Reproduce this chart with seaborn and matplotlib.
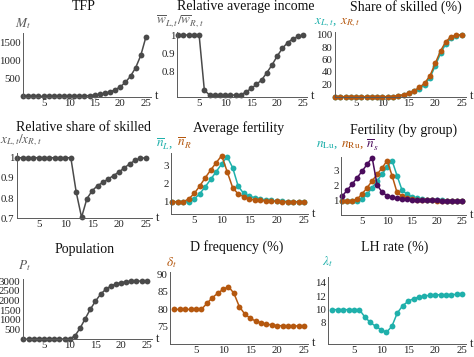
import numpy as np
import pandas as pd
import matplotlib
matplotlib.use("Agg")
import matplotlib.pyplot as plt
import seaborn as sns
from matplotlib.ticker import FixedLocator, MultipleLocator, FuncFormatter

# ---------------- data ----------------
t = list(range(1, 26))

tfp = [5, 5, 5, 5, 5, 5, 5, 6, 6, 7, 9, 13, 18, 27, 40, 60, 90, 130, 186, 269,
       395, 565, 800, 1140, 1650]

rel_income = [1, 1, 1, 1, 1, 0.70, 0.673, 0.673, 0.673, 0.673, 0.673, 0.673, 0.673,
              0.69, 0.709, 0.731, 0.755, 0.795, 0.837, 0.886, 0.928, 0.959, 0.979,
              0.992, 0.999]

share_R = [0, 0, 0, 0, 0, 0, 0, 0, 0, 0, 0, 0.3, 1.5, 3.5, 6.5, 10, 15, 22, 34, 54,
           74, 89, 97, 99.5, 100]
share_L = [0, 0, 0, 0, 0, 0, 0, 0, 0, 0, 0, 0.25, 1.05, 2.8, 5.5, 8.6, 13.1, 19.6,
           30.8, 50, 70, 85.5, 94.6, 98.5, 100]

rel_share = [1, 1, 1, 1, 1, 1, 1, 1, 1, 1, 1, 0.83, 0.705, 0.797, 0.837, 0.862,
             0.878, 0.895, 0.912, 0.93, 0.95, 0.97, 0.987, 0.997, 1.0]

avg_fert_R = [1, 1, 1, 1.15, 1.46, 1.87, 2.33, 2.76, 3.17, 3.56, 2.67, 1.78, 1.43,
              1.28, 1.15, 1.1, 1.07, 1.05, 1.03, 1.02, 1.01, 1.0, 1.0, 1.0, 1.0]
avg_fert_L = [1, 1, 1, 1, 1.15, 1.44, 1.83, 2.24, 2.67, 3.1, 3.5, 2.89, 1.87, 1.46,
              1.31, 1.22, 1.15, 1.1, 1.07, 1.04, 1.02, 1.01, 1.0, 1.0, 1.0]

fert_Lu = [1, 1, 1, 1, 1.11, 1.43, 1.88, 2.33, 2.8, 3.25, 3.7, 2.69, 1.72, 1.43,
           1.27, 1.16, 1.11, 1.07, 1.05, 1.03, 1.02, 1.01, 1.0, 1.0, 1.0]
fert_Ru = [1, 1, 1, 1.11, 1.47, 1.88, 2.33, 2.78, 3.2, 3.7, 2.69, 1.56, 1.31, 1.16,
           1.1, 1.06, 1.04, 1.03, 1.02, 1.01, 1.0, 1.0, 1.0, 1.0, 1.0]
fert_s = [1.31, 1.72, 2.12, 2.55, 3.0, 3.45, 3.9, 2.06, 1.57, 1.34, 1.22, 1.16, 1.11,
          1.09, 1.07, 1.05, 1.04, 1.03, 1.02, 1.02, 1.01, 1.01, 1.0, 1.0, 1.0]

population = [5, 5, 5, 5, 5, 6, 7, 9, 14, 30, 170, 560, 1050, 1540, 1955, 2315, 2570,
              2740, 2850, 2915, 2965, 2985, 2995, 3000, 3000]

d_freq = [80, 80, 80, 80, 80, 80, 81.7, 83.3, 84.6, 85.7, 86.5, 84.6, 80.8, 78.7,
          77.5, 76.7, 76.2, 75.8, 75.6, 75.4, 75.35, 75.3, 75.3, 75.3, 75.3]

lh_rate = [10, 10, 10, 10, 10, 10, 8.9, 8.1, 7.5, 7.0, 6.6, 7.5, 9.5, 10.6, 11.25,
           11.65, 11.9, 12.05, 12.15, 12.2, 12.25, 12.25, 12.27, 12.28, 12.28]

titles = ["TFP", "Relative average income", "Share of skilled (%)",
          "Relative share of skilled", "Average fertility", "Fertility (by group)",
          "Population", "D frequency (%)", "LH rate (%)"]
x_ticks = [5, 10, 15, 20, 25]

# ---------------- style ----------------
sns.set_style("white")
plt.rcParams['font.family'] = ['Liberation Serif', 'DejaVu Serif']
plt.rcParams['mathtext.fontset'] = 'stix'

GRAY = '#4a4a4a'
TEAL = '#1fb0ab'
ORANGE = '#b5580f'
PURPLE = '#4b0c5c'
AX = '#5a5a5a'

W, H = 474, 357
fig = plt.figure(figsize=(W / 100, H / 100), dpi=100)
renderer = fig.canvas.get_renderer()

# (L, R, B, T) px, xlim, ylim, yticks, yminor
layout = [
    ((22.5, 151, 96.5, 33), (0.88, 26.0), (0, 1764), [500, 1000, 1500], 100),
    ((177.3, 306.7, 96.7, 31.7), (0.81, 25.65), (0.664, 1.018), [0.8, 0.9, 1], 0.02),
    ((334.7, 465.7, 96.7, 31.7), (0.95, 25.76), (0, 105), [20, 40, 60, 80, 100], 5),
    ((16.7, 151.7, 218.3, 153.3), (0.89, 26.1), (0.7, 1.022), [0.7, 0.8, 0.9, 1], 0.02),
    ((170.7, 308.3, 214.3, 153.3), (0.71, 25.78), (0.3, 3.69), [1, 2, 3], 0.2),
    ((340.7, 465.7, 215, 156.7), (0.68, 25.8), (0.04, 3.96), [1, 2, 3], 0.2),
    ((22.5, 151.7, 339.3, 278.7), (0.81, 25.97), (0, 3119), [500, 1000, 1500, 2000, 2500, 3000], 100),
    ((170, 308.3, 343.7, 272), (0.2, 25.74), (70.24, 90.65), [75, 80, 85, 90], 1),
    ((328.3, 465.7, 344.3, 277), (0.26, 25.63), (4.8, 14.9), [8, 10, 12, 14], 0.5),
]

series = [
    [(tfp, GRAY)],
    [(rel_income, GRAY)],
    [(share_L, TEAL), (share_R, ORANGE)],
    [(rel_share, GRAY)],
    [(avg_fert_L, TEAL), (avg_fert_R, ORANGE)],
    [(fert_Lu, TEAL), (fert_Ru, ORANGE), (fert_s, PURPLE)],
    [(population, GRAY)],
    [(d_freq, ORANGE)],
    [(lh_rate, TEAL)],
]

title_pos = [(83.3, 7), (245.7, 6.5), (406.3, 7),
             (83.3, 127), (239, 128), (404, 130),
             (85, 250), (236.7, 247.5), (394.7, 247.5)]

ylabels = [
    (15, 23.3, [(r'$M_t$', AX)]),
    (156, 21.7, [(r'$\overline{w}_{L,t}/\overline{w}_{R,t}$', AX)]),
    (314, 22.7, [(r'$x_{L,t}$,', TEAL), (r' $x_{R,t}$', ORANGE)]),
    (0.5, 140, [(r'$x_{L,t}/x_{R,t}$', AX)]),
    (156.5, 143.3, [(r'$\overline{n}_L$,', TEAL), (r' $\overline{n}_R$', ORANGE)]),
    (315.5, 145, [(r'$n_{\mathrm{Lu}}$,', TEAL), (r' $n_{\mathrm{Ru}}$,', ORANGE),
                  (r' $\overline{n}_s$', PURPLE)]),
    (18, 265.3, [(r'$P_t$', AX)]),
    (166.5, 263, [(r'$\delta_t$', ORANGE)]),
    (322, 262, [(r'$\lambda_t$', TEAL)]),
]


def fmt(v, pos):
    return f"{v:g}"


for i in range(9):
    (L, R, B, T), xl, yl, yt, ymin_step = layout[i]
    ax = fig.add_axes([L / W, 1 - B / H, (R - L) / W, (B - T) / H])
    for vals, col in series[i]:
        df = pd.DataFrame({"t": t, "v": vals})
        sns.lineplot(data=df, x="t", y="v", ax=ax, color=col, marker='o',
                     markersize=4.2, markeredgewidth=0, linewidth=1.1)
    for ln in ax.lines:
        ln.set_clip_on(False)
    ax.set_xlim(*xl)
    ax.set_ylim(*yl)
    ax.set_xlabel("")
    ax.set_ylabel("")
    for s in ("top", "right"):
        ax.spines[s].set_visible(False)
    for s in ("left", "bottom"):
        ax.spines[s].set_color(AX)
        ax.spines[s].set_linewidth(0.7)
    ax.xaxis.set_major_locator(FixedLocator(x_ticks))
    ax.xaxis.set_minor_locator(MultipleLocator(1))
    ax.yaxis.set_major_locator(FixedLocator(yt))
    ax.yaxis.set_minor_locator(MultipleLocator(ymin_step))
    ax.yaxis.set_major_formatter(FuncFormatter(fmt))
    ax.tick_params(which='major', direction='in', length=3.5, width=0.6,
                   color=AX, labelsize=7.8, labelcolor='#222222', pad=1.5)
    ax.tick_params(which='minor', direction='in', length=1.8, width=0.5, color=AX)
    ax.patch.set_alpha(0)

    cx, cy = title_pos[i]
    fig.text(cx / W, 1 - cy / H, titles[i], fontsize=10, ha='center', va='center',
             color='#111111')
    fig.text((R + 4) / W, 1 - (B - 0.5) / H, "t", fontsize=9, ha='left',
             va='center', color='#222222')

    x0, y0, pieces = ylabels[i]
    cxp = x0
    for txt, col in pieces:
        tx = fig.text(cxp / W, 1 - y0 / H, txt, color=col, fontsize=9.5,
                      ha='left', va='center')
        bb = tx.get_window_extent(renderer=renderer)
        cxp += bb.width

fig.savefig("out.png", dpi=100)
